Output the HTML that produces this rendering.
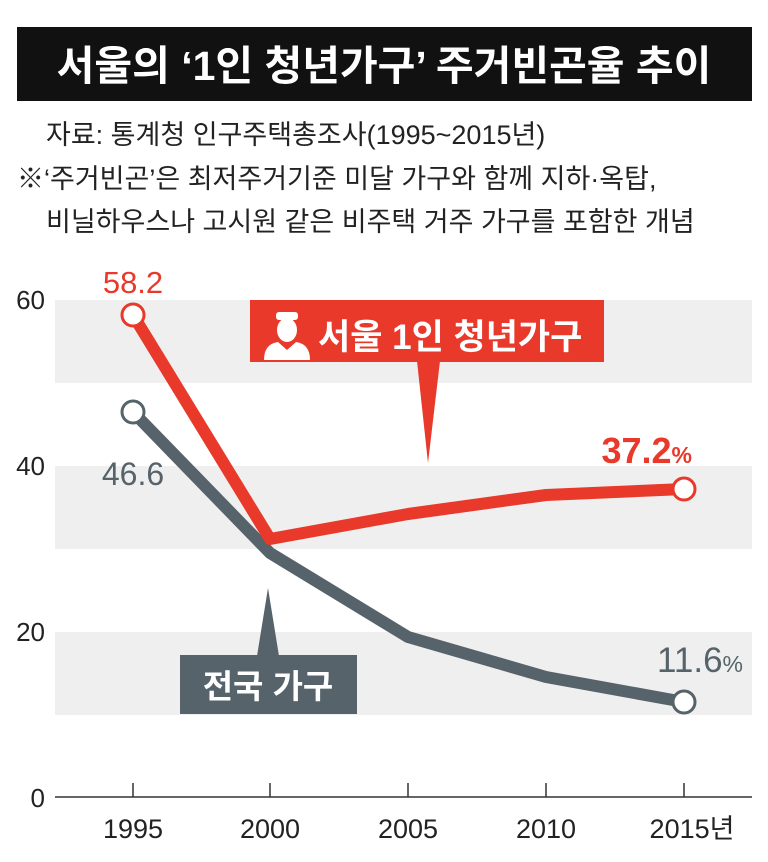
<!DOCTYPE html>
<html><head><meta charset="utf-8"><style>
html,body{margin:0;padding:0;background:#fff}
svg{display:block}
text{font-family:"Liberation Sans","Noto Sans CJK KR",sans-serif}
</style></head><body>
<svg width="768" height="862" viewBox="0 0 768 862" xmlns="http://www.w3.org/2000/svg">
<rect x="17" y="27" width="735" height="74" fill="#111"/>
<text x="384" y="80" text-anchor="middle" font-size="41" font-weight="bold" fill="#fff">서울의 ‘1인 청년가구’ 주거빈곤율 추이</text>
<text x="46" y="144" font-size="27" fill="#222">자료: 통계청 인구주택총조사(1995~2015년)</text>
<text x="17" y="188" font-size="27" fill="#222">※‘주거빈곤’은 최저주거기준 미달 가구와 함께 지하·옥탑,</text>
<text x="46" y="231" font-size="27" fill="#222">비닐하우스나 고시원 같은 비주택 거주 가구를 포함한 개념</text>
<rect x="55" y="300" width="697" height="83" fill="#efefef"/>
<rect x="55" y="466" width="697" height="83" fill="#efefef"/>
<rect x="55" y="632" width="697" height="83" fill="#efefef"/>
<g font-size="26" fill="#222" text-anchor="end">
<text x="45" y="309">60</text><text x="45" y="475">40</text><text x="45" y="641">20</text><text x="45" y="807">0</text>
</g>
<line x1="55" y1="797" x2="752" y2="797" stroke="#333" stroke-width="1.5"/>
<g stroke="#333" stroke-width="1.5">
<line x1="133" y1="783" x2="133" y2="797"/><line x1="270" y1="783" x2="270" y2="797"/><line x1="408" y1="783" x2="408" y2="797"/><line x1="546" y1="783" x2="546" y2="797"/><line x1="684" y1="783" x2="684" y2="797"/>
</g>
<g font-size="27" fill="#222" text-anchor="middle">
<text x="133" y="838">1995</text><text x="270" y="838">2000</text><text x="408" y="838">2005</text><text x="546" y="838">2010</text><text x="692" y="838">2015년</text>
</g>
<polyline points="133,412 270,553 408,637 546,677 684,702" fill="none" stroke="#56636a" stroke-width="12" stroke-linejoin="round"/>
<polyline points="133,315 270,539 408,514 546,495 684,489" fill="none" stroke="#e8392a" stroke-width="12" stroke-linejoin="round"/>
<circle cx="133" cy="412" r="11" fill="#fff" stroke="#56636a" stroke-width="3"/>
<circle cx="684" cy="702" r="11" fill="#fff" stroke="#56636a" stroke-width="3"/>
<circle cx="133" cy="315" r="11" fill="#fff" stroke="#e8392a" stroke-width="3"/>
<circle cx="684" cy="489" r="11" fill="#fff" stroke="#e8392a" stroke-width="3"/>
<text x="133" y="293" text-anchor="middle" font-size="31" fill="#e8392a">58.2</text>
<text x="133" y="485" text-anchor="middle" font-size="32" fill="#56636a">46.6</text>
<text x="692" y="463" text-anchor="end" font-size="36" font-weight="bold" fill="#e8392a">37.2<tspan font-size="23">%</tspan></text>
<text x="743" y="672" text-anchor="end" font-size="35" fill="#56636a">11.6<tspan font-size="23">%</tspan></text>
<polygon points="417,361 440,361 428,463" fill="#e8392a"/>
<rect x="250" y="300" width="354" height="62" fill="#e8392a"/>
<g fill="#fff">
<rect x="276" y="312" width="22" height="8" rx="3"/>
<ellipse cx="287" cy="330" rx="10" ry="12"/>
<path d="M264 360 Q264 344 278 342 L287 350 L296 342 Q310 344 310 360 Z"/>
</g>
<text x="318" y="349" font-size="35" font-weight="bold" fill="#fff">서울 1인 청년가구</text>
<polygon points="257,656 279,656 268,588" fill="#56636a"/>
<rect x="180" y="655" width="177" height="59" fill="#56636a"/>
<text x="268" y="698" text-anchor="middle" font-size="33" font-weight="bold" fill="#fff">전국 가구</text>
</svg>
</body></html>
